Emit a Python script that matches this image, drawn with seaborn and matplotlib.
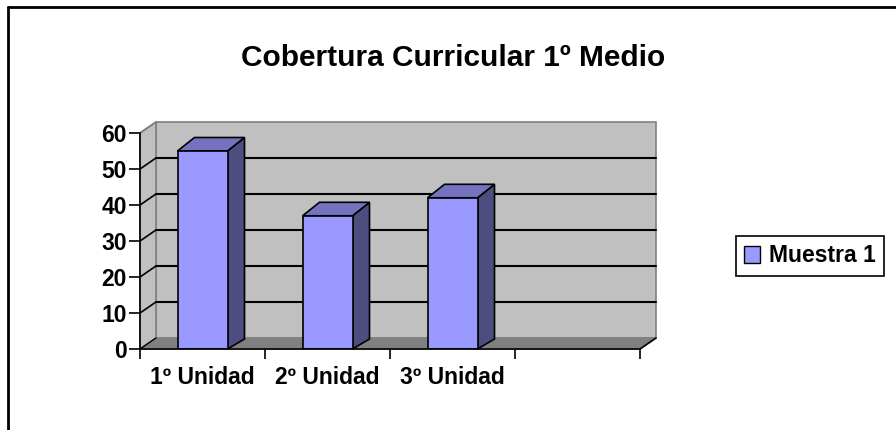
"""Cobertura Curricular 1º Medio - 3D style column chart"""
import matplotlib
matplotlib.use("Agg")
import matplotlib.pyplot as plt
import seaborn as sns
from matplotlib.patches import Polygon, Rectangle, Patch
from matplotlib.lines import Line2D

# data
unidades = ['1º Unidad', '2º Unidad', '3º Unidad']
valores = [55, 37, 42]
serie = 'Muestra 1'
y_ticks = [0, 10, 20, 30, 40, 50, 60]
n_slots = 4  # Excel keeps an empty slot to the right

sns.set_theme(style='white')
plt.rcParams['font.family'] = ['Liberation Sans', 'DejaVu Sans']
plt.rcParams['font.weight'] = 'bold'
plt.rcParams['text.color'] = 'black'
plt.rcParams['xtick.color'] = 'black'
plt.rcParams['ytick.color'] = 'black'

W, H = 896, 430
fig = plt.figure(figsize=(W / 100, H / 100), dpi=100)
fig.patch.set_facecolor('white')

# front plane of the plot area (pixels)
x0, x1, y0, y1 = 140, 640, 349, 133
ax = fig.add_axes([x0 / W, (H - y0) / H, (x1 - x0) / W, (y0 - y1) / H])
ax.set_xlim(-0.5, n_slots - 0.5)
ax.set_ylim(0, 60)
ax.patch.set_visible(False)

# pixel -> data conversions
px_x = (n_slots) / (x1 - x0)
px_y = 60 / (y0 - y1)

# depth of walls and bars, in data units
wdx, wdy = 16 * px_x, 11 * px_y
bdx, bdy_top, bdy_bot = 17 * px_x, 13.5 * px_y, 10 * px_y

left, right = -0.5, n_slots - 0.5
wall_c, floor_c, edge_c = '#C0C0C0', '#808080', '#808080'

# back wall
ax.add_patch(Rectangle((left + wdx, wdy), right - left, 60, facecolor=wall_c,
                       edgecolor=edge_c, lw=1.2, clip_on=False, zorder=0))
# side wall
ax.add_patch(Polygon([(left, 0), (left + wdx, wdy), (left + wdx, 60 + wdy), (left, 60)],
                     closed=True, facecolor=wall_c, edgecolor=edge_c, lw=1.2,
                     clip_on=False, zorder=0))
# gridlines on back and side wall
for t in y_ticks[1:-1]:
    ax.plot([left + wdx, right + wdx], [t + wdy, t + wdy], color='black', lw=1.5,
            clip_on=False, zorder=1)
    ax.plot([left, left + wdx], [t, t + wdy], color='black', lw=1.2,
            clip_on=False, zorder=1)
ax.plot([left, left + wdx], [60, 60 + wdy], color=edge_c, lw=1.2, clip_on=False, zorder=1)
# floor
ax.add_patch(Polygon([(left, 0), (right, 0), (right + wdx, wdy), (left + wdx, wdy)],
                     closed=True, facecolor=floor_c, edgecolor=edge_c, lw=1,
                     clip_on=False, zorder=1))
ax.plot([left, left + wdx], [0, wdy], color='black', lw=1, clip_on=False, zorder=1)
ax.plot([right, right + wdx], [0, wdy], color='black', lw=1.2, clip_on=False, zorder=1)

# front faces of the columns
sns.barplot(x=unidades, y=valores, color='#9999FF', saturation=1, width=0.4,
            edgecolor='black', linewidth=1.2, ax=ax, zorder=3)
ax.set_xlim(left, right)
ax.set_ylim(0, 60)

for bar in ax.containers[0]:
    bx, bw, bh = bar.get_x(), bar.get_width(), bar.get_height()
    side = Polygon([(bx + bw, 0), (bx + bw + bdx, bdy_bot), (bx + bw + bdx, bh + bdy_top),
                    (bx + bw, bh)], closed=True, facecolor='#4D4D80',
                   edgecolor='black', lw=1.2, clip_on=False, zorder=2)
    top = Polygon([(bx, bh), (bx + bw, bh), (bx + bw + bdx, bh + bdy_top),
                   (bx + bdx, bh + bdy_top)], closed=True, facecolor='#7373BF',
                  edgecolor='black', lw=1.2, clip_on=False, zorder=2)
    ax.add_patch(side)
    ax.add_patch(top)

# axes
for s in ['top', 'right']:
    ax.spines[s].set_visible(False)
ax.spines['left'].set_color('black')
ax.spines['bottom'].set_color('black')
ax.spines['left'].set_linewidth(1.2)
ax.spines['bottom'].set_linewidth(1.2)
ax.spines['left'].set_zorder(4)
ax.spines['bottom'].set_zorder(4)

ax.set_yticks(y_ticks)
ax.set_yticklabels([str(t) for t in y_ticks])
ax.tick_params(axis='y', direction='out', length=8, width=1.2, color='black',
               labelcolor='black', labelsize=16.5, pad=1.5, left=True)
ax.set_xticks(range(len(unidades)))
ax.set_xticklabels(unidades)
ax.set_xticks([i - 0.5 for i in range(n_slots + 1)], minor=True)
ax.tick_params(axis='x', which='major', length=0, labelsize=16.5, labelcolor='black',
               pad=12)
ax.tick_params(axis='x', which='minor', direction='out', length=7, width=1.2,
               color='black', bottom=True)
for lab in ax.get_xticklabels() + ax.get_yticklabels():
    lab.set_fontweight('bold')
ax.set_xlabel('')
ax.set_ylabel('')

# title
fig.text(453 / W, 1 - 58 / H, 'Cobertura Curricular 1º Medio', ha='center',
         va='center', fontsize=21.5, fontweight='bold', color='black')

# legend
leg = fig.legend(handles=[Patch(facecolor='#9999FF', edgecolor='black', lw=1)],
                 labels=[serie], loc='center', bbox_to_anchor=(810 / W, 1 - 256 / H),
                 frameon=True, fancybox=False, framealpha=1, edgecolor='black',
                 prop={'weight': 'bold', 'size': 16.5}, handlelength=0.7,
                 handleheight=0.7, handletextpad=0.4, borderpad=0.35,
                 labelcolor='black')
leg.get_frame().set_linewidth(1.2)

# outer chart border
fig.add_artist(Line2D([8 / W, 8 / W], [0, 1 - 7 / H], transform=fig.transFigure,
                      color='black', lw=2))
fig.add_artist(Line2D([8 / W, 1], [1 - 7 / H, 1 - 7 / H], transform=fig.transFigure,
                      color='black', lw=2))

fig.savefig('out.png', dpi=100)
